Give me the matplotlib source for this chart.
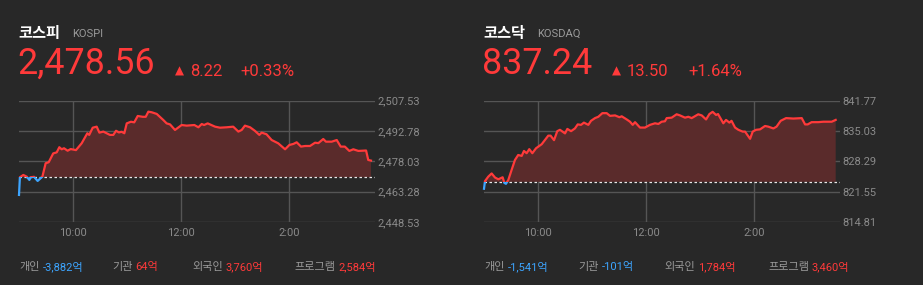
import matplotlib
matplotlib.use("Agg")
import matplotlib.pyplot as plt
import numpy as np
from matplotlib.patches import Rectangle

# ---------------- data ----------------
kospi_min = [0, 1, 4.8, 8.5, 11.5, 13, 16.7, 20.7, 26, 29.6, 33, 38, 41.9, 44.8, 47.4, 50, 54, 57.4,
             63.3, 69.6, 75.9, 78, 81.9, 86.3, 89.3, 93.7, 101, 104.8, 107.8, 111, 114, 117, 119.7,
             124.4, 128, 131.9, 137.4, 140.8, 143.7, 147.4, 153, 160.4, 164, 167.8, 173.3, 180.7,
             186.3, 194.8, 199.3, 203, 205.6, 209.6, 217.8, 223.3, 230.7, 238, 243.7, 247.4, 251,
             256.7, 262, 267, 269.6, 275, 280.7, 288, 295.6, 300.4, 304.8, 308.5, 313.3, 317.8,
             323.3, 328.9, 332.6, 338, 341, 347.4, 353, 357.4, 362, 367, 371.4, 377, 385.6, 388, 391]
kospi_val = [2461.7, 2470.3, 2471.4, 2470.6, 2469.0, 2470.3, 2470.5, 2468.5, 2470.6, 2477.1, 2477.6,
             2481.9, 2482.4, 2484.9, 2483.9, 2484.4, 2483.2, 2484.0, 2483.5, 2486.8, 2491.7, 2490.9,
             2494.4, 2494.9, 2492.0, 2492.5, 2490.9, 2490.9, 2492.9, 2492.1, 2492.4, 2491.7, 2496.5,
             2497.3, 2497.0, 2500.1, 2499.7, 2499.7, 2502.2, 2501.9, 2501.1, 2498.1, 2496.5, 2496.0,
             2493.3, 2495.7, 2495.4, 2495.7, 2494.6, 2496.2, 2495.7, 2496.5, 2494.9, 2494.4, 2494.6,
             2494.9, 2492.5, 2493.3, 2495.4, 2494.6, 2492.9, 2490.9, 2492.0, 2491.2, 2488.4, 2486.8,
             2483.9, 2486.0, 2486.5, 2487.3, 2485.2, 2485.5, 2485.5, 2487.1, 2486.9, 2488.9, 2487.6,
             2487.6, 2488.4, 2485.2, 2485.2, 2483.1, 2483.9, 2483.1, 2483.3, 2478.7, 2478.4]

kosdaq_min = [0, 1.1, 4.8, 8.5, 12.2, 15.9, 20.7, 22.6, 24.4, 27, 30.7, 34.4, 38, 41.9, 44.4, 47.4,
              50.3, 53.7, 57.8, 64.1, 71.4, 74, 77.8, 81.4, 84.4, 90, 92.6, 96.7, 101, 104.1, 107.8,
              111, 115.9, 118.9, 123.3, 127, 131.5, 136.3, 140, 145.6, 150.4, 153, 158.6, 162.2,
              165.2, 167.8, 173.3, 178.9, 184.4, 190, 193.7, 197.4, 201, 203, 208.5, 214, 217.8,
              223.3, 227, 230.7, 238, 241.9, 246.7, 250.4, 254, 257.8, 260, 265.9, 268.9, 272.6,
              275, 278.9, 282.6, 287.4, 290, 295.6, 298.5, 302.2, 306.7, 312.2, 315.9, 321.5, 325,
              329.6, 335.6, 343.7, 353, 356.7, 359.6, 364, 371.4, 377, 386.3, 390.7]
kosdaq_val = [822.2, 823.9, 824.9, 825.6, 824.7, 824.3, 824.75, 823.5, 823.3, 824.15, 826.4, 828.6,
              829.7, 829.5, 830.6, 830.1, 831.0, 830.1, 831.2, 832.1, 834.0, 834.0, 833.0, 835.0,
              835.3, 834.5, 835.5, 835.0, 835.6, 836.5, 836.4, 836.9, 836.4, 837.3, 837.9, 838.2,
              839.0, 839.0, 838.4, 838.5, 838.1, 838.3, 837.6, 837.1, 836.4, 837.0, 835.8, 835.8,
              836.4, 836.75, 836.6, 837.1, 837.2, 837.9, 838.0, 838.75, 838.5, 838.0, 838.2, 837.9,
              838.75, 838.5, 837.6, 838.8, 839.3, 838.6, 838.8, 836.75, 837.5, 836.9, 837.3, 835.8,
              835.3, 834.9, 834.9, 833.3, 834.9, 835.3, 835.4, 836.15, 836.0, 835.6, 836.0, 837.3,
              837.9, 837.8, 837.9, 836.5, 836.5, 837.0, 837.0, 837.1, 837.1, 837.5]

kospi_prev = 2470.34
kosdaq_prev = 823.74
kospi_ticks = [2448.53, 2463.28, 2478.03, 2492.78, 2507.53]
kosdaq_ticks = [814.81, 821.55, 828.29, 835.03, 841.77]
time_ticks = [60, 180, 300]
time_labels = ["10:00", "12:00", "2:00"]

names = ["코스피", "코스닥"]
codes = ["KOSPI", "KOSDAQ"]
prices = ["2,478.56", "837.24"]
changes = ["8.22", "13.50"]
pcts = ["+0.33%", "+1.64%"]
flow_labels = ["개인", "기관", "외국인", "프로그램"]
kospi_flows = ["-3,882억", "64억", "3,760억", "2,584억"]
kosdaq_flows = ["-1,541억", "-101억", "1,784억", "3,460억"]

# ---------------- style ----------------
BG = "#282828"
GRID = "#555555"
RED = "#ff3a3a"
BLUE = "#3da5ff"
FILL = "#5a2b2b"
LBL = "#8a8a8a"
W, H = 923, 285
FONT = ["Roboto", "Noto Sans CJK KR", "DejaVu Sans"]
KFONT = ["Noto Sans CJK KR", "DejaVu Sans"]

fig = plt.figure(figsize=(W / 100, H / 100), dpi=100, facecolor=BG)


def fx(x):
    return x / W


def fy(y):
    return 1 - y / H


def draw_chart(left_px, t, v, prev, ticks):
    ax = fig.add_axes([fx(left_px), fy(222), 356 / W, 121.3 / H])
    ax.set_facecolor(BG)
    t = np.asarray(t, float)
    v = np.asarray(v, float)
    ax.set_xlim(0, 395.5)
    ax.set_ylim(ticks[0], ticks[-1])
    for s in ax.spines.values():
        s.set_visible(False)
    for yt in ticks:
        ax.axhline(yt, color=GRID, lw=1, zorder=1)
    for xt in time_ticks:
        ax.axvline(xt, color=GRID, lw=1, zorder=1)
    ax.fill_between(t, v, prev, where=v >= prev, interpolate=True, color=FILL, lw=0, zorder=2)
    l1, = ax.plot(t, v, color=RED, lw=1.6, zorder=4, solid_joinstyle="round")
    l2, = ax.plot(t, v, color=BLUE, lw=1.6, zorder=4, solid_joinstyle="round")
    r1 = Rectangle((-10, prev), 500, 1000, transform=ax.transData)
    r2 = Rectangle((-10, prev - 1000), 500, 1000, transform=ax.transData)
    l1.set_clip_path(r1)
    l2.set_clip_path(r2)
    ax.axhline(prev, color="#e8e8e8", lw=0.9, ls=(0, (2, 2)), zorder=3)
    ax.set_xticks(time_ticks)
    ax.set_xticklabels(time_labels)
    ax.tick_params(axis="x", length=0, pad=4, labelsize=8, labelcolor=LBL)
    ax.yaxis.tick_right()
    ax.set_yticks(ticks)
    ax.set_yticklabels([f"{x:,.2f}" for x in ticks])
    ax.tick_params(axis="y", length=0, pad=2, labelsize=8, labelcolor=LBL)
    for lab in ax.get_xticklabels() + ax.get_yticklabels():
        lab.set_fontfamily(FONT)
    return ax


draw_chart(19, kospi_min, kospi_val, kospi_prev, kospi_ticks)
draw_chart(484, kosdaq_min, kosdaq_val, kosdaq_prev, kosdaq_ticks)

# header texts
hx = [(18, 72, 17, 175, 190, 240), (483, 537, 482, 612, 627, 688)]
for i in range(2):
    nx, cx, px, tx, chx, pcx = hx[i]
    fig.text(fx(nx), fy(33), names[i], color="white", fontsize=11, fontweight="bold",
             family=KFONT, va="center", ha="left")
    fig.text(fx(cx), fy(34), codes[i], color="#9a9a9a", fontsize=8, family=FONT,
             va="center", ha="left")
    fig.text(fx(px), fy(64), prices[i], color=RED, fontsize=25.8, family=FONT,
             va="center", ha="left")
    fig.text(fx(tx), fy(71), "▲", color=RED, fontsize=8.5, family=["DejaVu Sans"],
             va="center", ha="left")
    fig.text(fx(chx), fy(71), changes[i], color=RED, fontsize=12, family=FONT,
             va="center", ha="left")
    fig.text(fx(pcx), fy(71), pcts[i], color=RED, fontsize=12, family=FONT,
             va="center", ha="left")

# flows
flow_x = [[19, 112, 192, 294], [484, 578, 664, 768]]
flows = [kospi_flows, kosdaq_flows]
r = fig.canvas.get_renderer()
for i in range(2):
    for j in range(4):
        t1 = fig.text(fx(flow_x[i][j]), fy(267), flow_labels[j], color="#9a9a9a", fontsize=8,
                      family=KFONT, va="center", ha="left")
        bb = t1.get_window_extent(renderer=r)
        val = flows[i][j]
        col = BLUE if val.startswith("-") else RED
        fig.text((bb.x1 + 3) / W, fy(267), val, color=col, fontsize=8,
                 family=FONT, va="center", ha="left")

fig.savefig("out.png", dpi=100, facecolor=BG)
